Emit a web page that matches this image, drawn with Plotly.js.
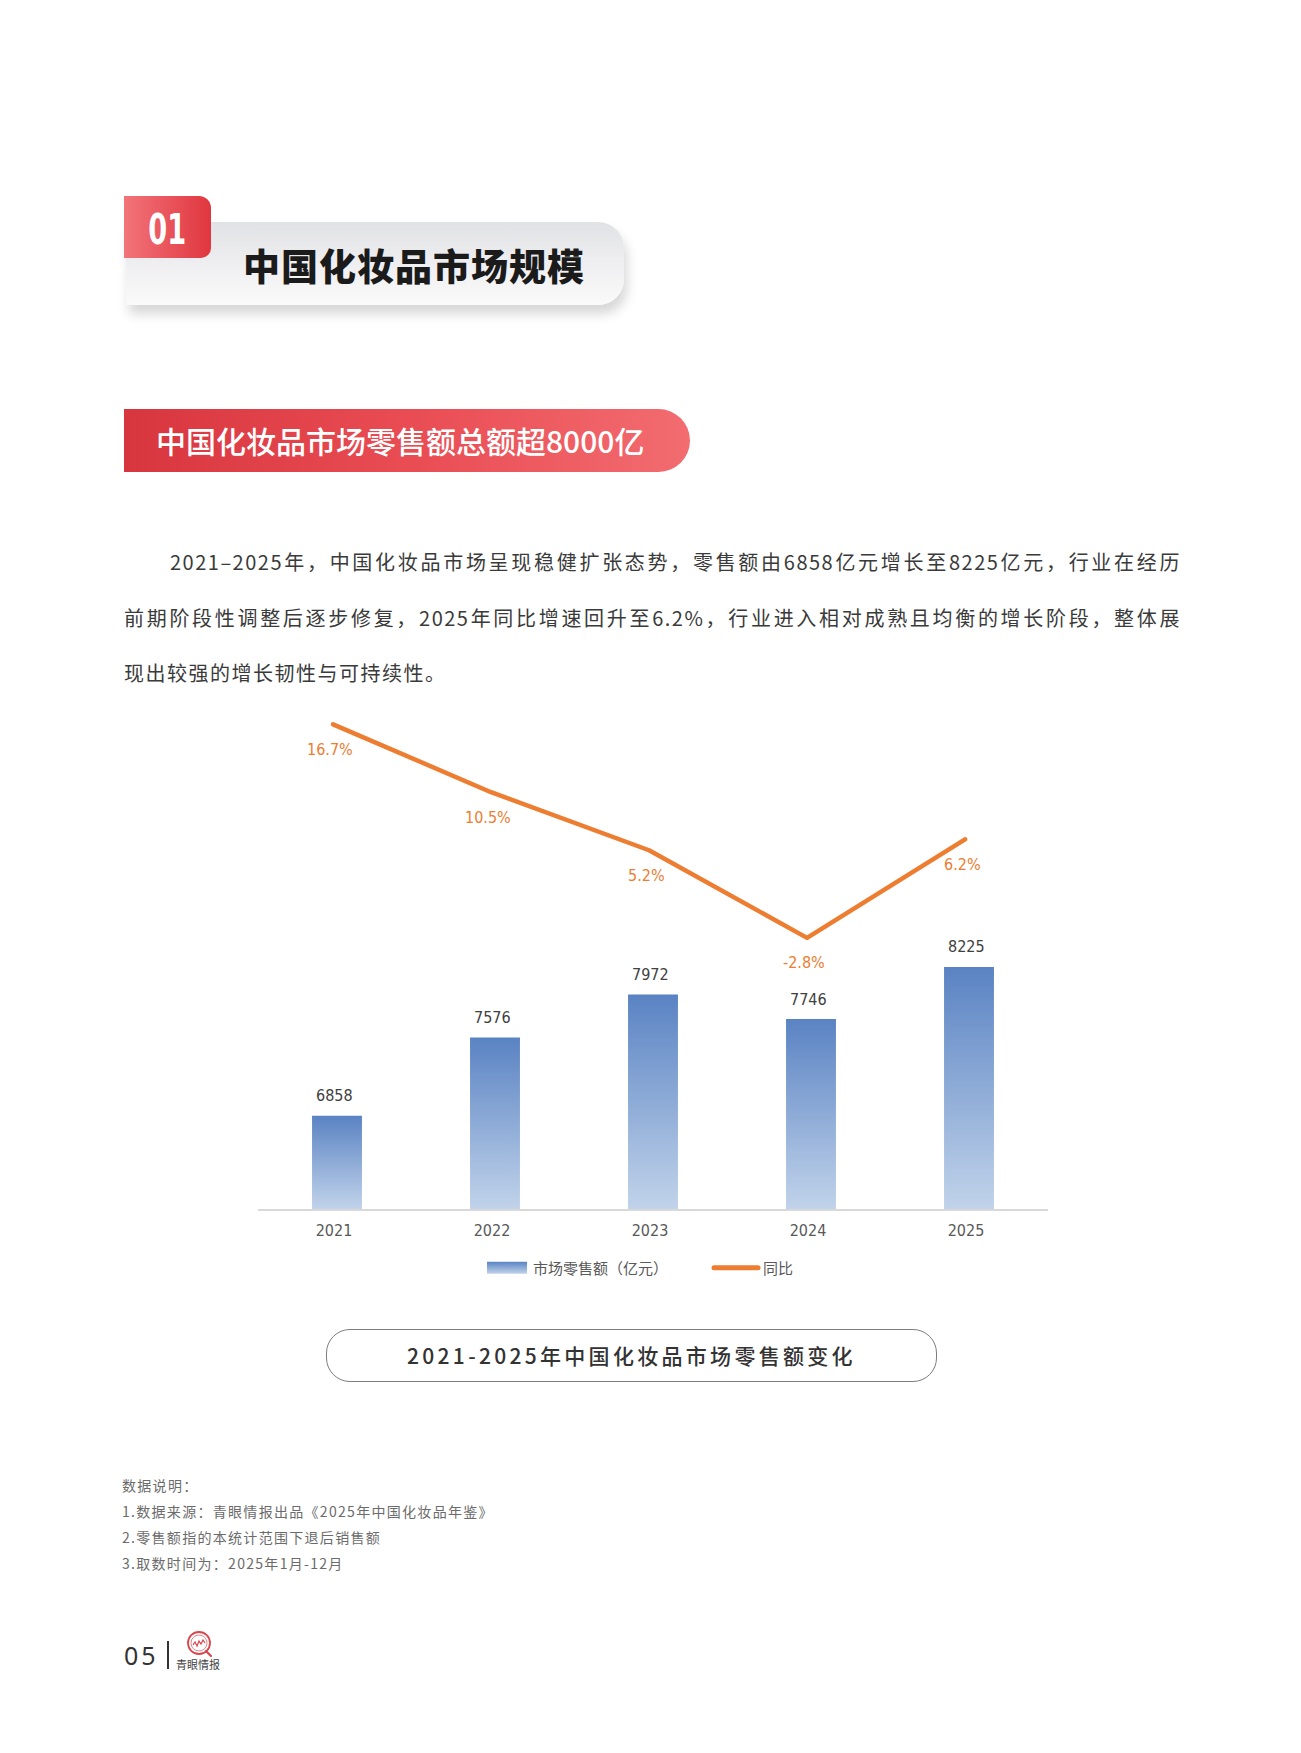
<!DOCTYPE html>
<html>
<head>
<meta charset="utf-8">
<script src="https://cdn.plot.ly/plotly-3.0.1.min.js"></script>
<style>
  html, body { margin:0; padding:0; background:#fff; overflow:hidden; }
  #page { position:relative; width:1301px; height:1753px; background:#fff; font-family:"Noto Sans CJK SC","Noto Sans",sans-serif; }
  .abs { position:absolute; }
  #secBox { left:126px; top:222px; width:498px; height:83px; border-radius:0 26px 26px 0;
            background:linear-gradient(180deg,#e1e2e5 0%,#f0f0f2 55%,#fafafa 100%);
            box-shadow:3px 9px 12px rgba(0,0,0,0.16); }
  #secTab { left:124px; top:196px; width:87px; height:62px; border-radius:0 12px 10px 0;
            background:linear-gradient(90deg,#f27479 0%,#e0363f 100%);
            color:#fff; font-family:"Liberation Sans Narrow","DejaVu Sans Condensed","Roboto",sans-serif;
            font-weight:700; font-size:42px; line-height:62px; text-align:center; padding-top:3px; box-sizing:border-box; }
  #secTab span { display:inline-block; transform:scaleX(0.72); transform-origin:center; }
  #secTitle { left:243px; top:240px; height:50px; line-height:50px; font-size:37px; font-weight:900; letter-spacing:1px; color:#1b1b1b; white-space:nowrap; }
  #banner { left:124px; top:409px; width:566px; height:63px; border-radius:0 31.5px 31.5px 0;
            background:linear-gradient(90deg,#d8363f 0%,#e94c53 50%,#f26c70 100%); }
  #bannerText { left:156px; top:409px; height:63px; line-height:63px; font-size:30px; font-weight:500; color:#fff; white-space:nowrap; }
  .pl { position:absolute; left:124px; width:1057px; height:56px; line-height:56px; font-size:20px; letter-spacing:1.5px; color:#3a3a3a; white-space:nowrap; }
  .j { text-align:justify; text-align-last:justify; }
  #capBox { left:326px; top:1329px; width:611px; height:53px; border:1px solid #7d7d7d; border-radius:24px; box-sizing:border-box; }
  #capText { left:326px; top:1329px; width:611px; height:53px; line-height:53px; text-align:center; font-size:21px; font-weight:500; letter-spacing:3.3px; color:#333; white-space:nowrap; }
  .note { position:absolute; left:122px; height:26px; line-height:26px; font-size:14px; letter-spacing:1.3px; color:#6b6b6b; white-space:nowrap; }
  #pageNo { left:124px; top:1638px; height:34px; line-height:34px; font-size:25px; letter-spacing:3px; color:#333; font-family:"Noto Sans","Noto Sans CJK SC",sans-serif; }
  #pageBar { left:167px; top:1641px; width:2px; height:28px; background:#333; }
  #logoText { left:176px; top:1657px; font-size:11px; line-height:14px; color:#444; letter-spacing:0px; white-space:nowrap; }
  #chart { position:absolute; left:0; top:0; width:1301px; height:1753px; }
</style>
</head>
<body>
<div id="page">
  <div id="secBox" class="abs"></div>
  <div id="secTab" class="abs"><span>01</span></div>
  <div id="secTitle" class="abs">中国化妆品市场规模</div>

  <div id="banner" class="abs"></div>
  <div id="bannerText" class="abs">中国化妆品市场零售额总额超8000亿</div>

  <div class="pl j" style="top:534px; text-indent:46px;">2021–2025年，中国化妆品市场呈现稳健扩张态势，零售额由6858亿元增长至8225亿元，行业在经历</div>
  <div class="pl j" style="top:590px;">前期阶段性调整后逐步修复，2025年同比增速回升至6.2%，行业进入相对成熟且均衡的增长阶段，整体展</div>
  <div class="pl" style="top:645px;">现出较强的增长韧性与可持续性。</div>

  <div id="capBox" class="abs"></div>
  <div id="capText" class="abs">2021-2025年中国化妆品市场零售额变化</div>

  <div class="note" style="top:1472px;">数据说明：</div>
  <div class="note" style="top:1498px;">1.数据来源：青眼情报出品《2025年中国化妆品年鉴》</div>
  <div class="note" style="top:1524px;">2.零售额指的本统计范围下退后销售额</div>
  <div class="note" style="top:1550px;">3.取数时间为：2025年1月-12月</div>

  <div id="pageNo" class="abs">05</div>
  <div id="pageBar" class="abs"></div>
  <svg class="abs" style="left:186px; top:1630px;" width="28" height="28" viewBox="0 0 28 28">
    <circle cx="13" cy="13" r="11" fill="none" stroke="#d6474e" stroke-width="1.8"/>
    <circle cx="13" cy="13" r="8" fill="none" stroke="#e8868a" stroke-width="1"/>
    <polyline points="7,15 9,12 11,16 13,11 15,14 17,10 19,13" fill="none" stroke="#d6474e" stroke-width="1.2"/>
    <line x1="20" y1="21" x2="25" y2="26" stroke="#d6474e" stroke-width="2.2" stroke-linecap="round"/>
  </svg>
  <div id="logoText" class="abs">青眼情报</div>

  <div id="chart"></div>
</div>

<script>
// ---------------- data ----------------
const years = ['2021', '2022', '2023', '2024', '2025'];
const retailSales = [6858, 7576, 7972, 7746, 8225];     // 亿元
const yoyGrowth = [16.7, 10.5, 5.2, -2.8, 6.2];          // %
const seriesNames = ['市场零售额（亿元）', '同比'];

// ---------------- styles ----------------
const narrowFont = '"Liberation Sans Narrow", "DejaVu Sans Condensed", "Noto Sans", sans-serif';
const cjkFont = '"Noto Sans CJK SC", "Noto Sans", sans-serif';
const barTop = '#5a83c3', barBottom = '#c1d3ea';
const lineColor = '#ED7D31';

const barTrace = {
  type: 'bar',
  name: seriesNames[0],
  x: years,
  y: retailSales,
  marker: { color: barTop, line: { width: 0 } },
  xaxis: 'x', yaxis: 'y',
  hoverinfo: 'skip'
};

const lineTrace = {
  type: 'scatter',
  mode: 'lines',
  name: seriesNames[1],
  x: years,
  y: yoyGrowth,
  line: { color: lineColor, width: 4.5 },
  xaxis: 'x2', yaxis: 'y2',
  hoverinfo: 'skip'
};

// category axes: annotation x given as category serial number (index)
const annotations = [];
years.forEach((yr, i) => {
  annotations.push({
    x: i, y: retailSales[i], xref: 'x', yref: 'y',
    text: String(retailSales[i]), showarrow: false,
    yanchor: 'middle', xanchor: 'center', yshift: 20, xshift: -3,
    font: { family: narrowFont, size: 16, color: '#404040' }
  });
  annotations.push({
    x: i, y: yoyGrowth[i], xref: 'x2', yref: 'y2',
    text: yoyGrowth[i].toFixed(1) + '%', showarrow: false,
    yanchor: 'middle', xanchor: 'center', yshift: -25, xshift: -3,
    font: { family: narrowFont, size: 16, color: lineColor }
  });
});

const layout = {
  width: 1301, height: 1753,
  margin: { l: 258, r: 253, t: 700, b: 544, pad: 0 },
  paper_bgcolor: 'rgba(0,0,0,0)',
  plot_bgcolor: 'rgba(0,0,0,0)',
  bargap: 0.684,
  showlegend: true,
  xaxis: {
    type: 'category', range: [-0.5, 4.5],
    showline: true, linecolor: '#d9d9d9', linewidth: 2,
    showgrid: false, zeroline: false, ticks: '',
    tickfont: { family: narrowFont, size: 16, color: '#595959' },
    ticklabelstandoff: 6, ticklabelshift: -3
  },
  xaxis2: { type: 'category', overlaying: 'x', anchor: 'y2', range: [-0.475, 4.525], visible: false },
  yaxis: { range: [6000, 10679], visible: false, showgrid: false, zeroline: false },
  yaxis2: { range: [-27.56, 18.92], overlaying: 'y', anchor: 'x2', visible: false, showgrid: false, zeroline: false },
  legend: {
    orientation: 'h', x: 0.2975, xanchor: 'left', y: -0.1159, yanchor: 'middle',
    font: { family: cjkFont, size: 15, color: '#595959' },
    entrywidth: 185, entrywidthmode: 'pixels', traceorder: 'normal',
    bgcolor: 'rgba(0,0,0,0)', borderwidth: 0
  },
  annotations: annotations
};

const gd = document.getElementById('chart');
const NS = 'http://www.w3.org/2000/svg';

function makeGrad(defs, id, attrs) {
  let g = defs.querySelector('#' + id);
  if (g) g.remove();
  g = document.createElementNS(NS, 'linearGradient');
  g.setAttribute('id', id);
  Object.keys(attrs).forEach(k => g.setAttribute(k, attrs[k]));
  [['0', barTop], ['1', barBottom]].forEach(([o, c]) => {
    const s = document.createElementNS(NS, 'stop');
    s.setAttribute('offset', o); s.setAttribute('stop-color', c);
    g.appendChild(s);
  });
  defs.appendChild(g);
}

function stylePatch() {
  const svg = gd.querySelector('svg.main-svg');
  if (!svg) return;
  let defs = svg.querySelector('defs');
  if (!defs) { defs = document.createElementNS(NS, 'defs'); svg.insertBefore(defs, svg.firstChild); }
  const plotH = gd._fullLayout._size.h;
  gd.querySelectorAll('.barlayer .point path').forEach((p, i) => {
    const b = p.getBBox();
    const top = Math.max(b.y, 0);
    const bot = Math.min(b.y + b.height, plotH);
    makeGrad(defs, 'barGrad' + i, { gradientUnits: 'userSpaceOnUse', x1: 0, y1: top, x2: 0, y2: bot });
    p.style.fill = 'url(#barGrad' + i + ')';
  });
  makeGrad(defs, 'legendGrad', { x1: 0, y1: 0, x2: 0, y2: 1 });
  // let the widened legend swatches extend past the legend box edge
  gd.querySelectorAll('.legend [clip-path]').forEach(el => el.removeAttribute('clip-path'));
  const items = gd.querySelectorAll('.legend g.traces');
  if (items.length > 0) {
    items[0].querySelectorAll('.legendpoints path').forEach(p => {
      p.setAttribute('d', 'M-6,6H34V-6H-6Z');
      p.setAttribute('transform', 'translate(0,0)');
      p.style.fill = 'url(#legendGrad)';
      p.style.stroke = 'none';
      p.style.strokeWidth = '0px';
    });
  }
  gd.querySelectorAll('.legend g.legendlines path').forEach(p => {
    p.setAttribute('d', 'M-9,0h44');
    p.style.strokeLinecap = 'round';
    p.style.strokeWidth = '5px';
  });
  gd.querySelectorAll('.scatterlayer .js-line').forEach(p => {
    p.style.strokeLinecap = 'round';
    p.style.strokeLinejoin = 'round';
  });
}

Plotly.newPlot(gd, [barTrace, lineTrace], layout, { staticPlot: true, displayModeBar: false }).then(() => {
  stylePatch();
  setTimeout(stylePatch, 50);
  setTimeout(stylePatch, 300);
});
gd.on && gd.on('plotly_afterplot', () => setTimeout(stylePatch, 0));
</script>
</body>
</html>
